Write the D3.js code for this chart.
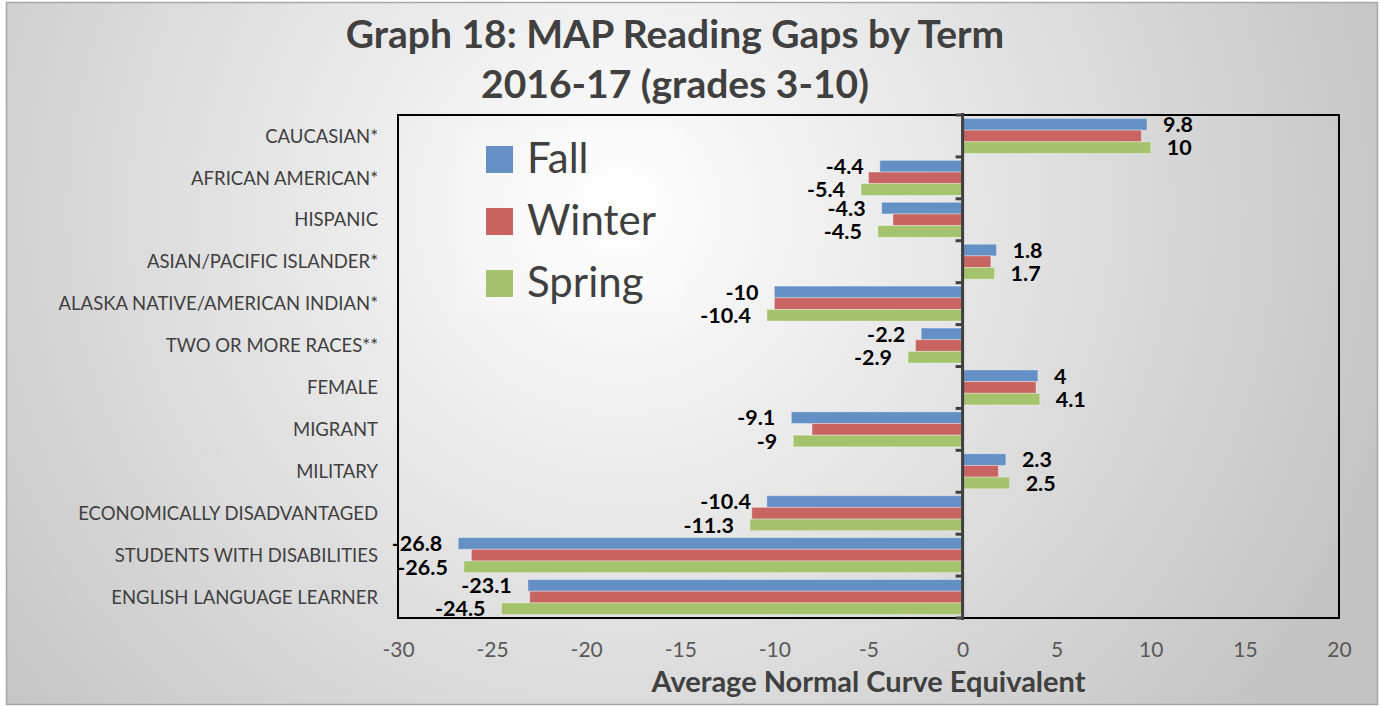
<!DOCTYPE html>
<html>
<head>
<meta charset="utf-8">
<script src="https://cdn.jsdelivr.net/npm/d3@7"></script>
<style>
  html, body { margin: 0; padding: 0; background: #fff; }
  svg { display: block; font-family: Lato, "Open Sans", sans-serif; }
</style>
</head>
<body>
<script>
// data
var categories = [
  "CAUCASIAN*", "AFRICAN AMERICAN*", "HISPANIC", "ASIAN/PACIFIC ISLANDER*",
  "ALASKA NATIVE/AMERICAN INDIAN*", "TWO OR MORE RACES**", "FEMALE", "MIGRANT",
  "MILITARY", "ECONOMICALLY DISADVANTAGED", "STUDENTS WITH DISABILITIES",
  "ENGLISH LANGUAGE LEARNER"
];
var series = ["Fall", "Winter", "Spring"];
var fall   = [9.8, -4.4, -4.3, 1.8, -10, -2.2, 4, -9.1, 2.3, -10.4, -26.8, -23.1];
var winter = [9.5, -5.0, -3.7, 1.5, -10, -2.5, 3.9, -8.0, 1.9, -11.2, -26.1, -23.0];
var spring = [10, -5.4, -4.5, 1.7, -10.4, -2.9, 4.1, -9, 2.5, -11.3, -26.5, -24.5];
var xTicks = [-30, -25, -20, -15, -10, -5, 0, 5, 10, 15, 20];
var colors = ["#6590c6", "#c86462", "#a5c36c"];
var labelled = ["Fall", "Spring"];   // winter bars carry no labels

var width = 1380, height = 706;
var plotLeft = 398, plotRight = 1339, plotTop = 115, plotBottom = 618;

var svg = d3.select("body").append("svg")
    .attr("width", width)
    .attr("height", height);

var defs = svg.append("defs");
var grad = defs.append("radialGradient")
    .attr("id", "bg")
    .attr("gradientUnits", "userSpaceOnUse")
    .attr("cx", 620).attr("cy", 210).attr("r", 820);
grad.append("stop").attr("offset", 0).attr("stop-color", "#ffffff");
grad.append("stop").attr("offset", 1).attr("stop-color", "#c3c3c3");

svg.append("rect")
    .attr("x", 6.5).attr("y", 2.5)
    .attr("width", 1371).attr("height", 702)
    .attr("fill", "url(#bg)")
    .attr("stroke", "#a6a6a6")
    .attr("stroke-width", 1.5);

var x = d3.scaleLinear().domain([-30, 20]).range([plotLeft, plotRight]);
var y = d3.scaleBand().domain(categories).range([plotTop, plotBottom])
    .paddingInner(0.165).paddingOuter(0.0825);
var ySub = d3.scaleBand().domain(series).range([0, y.bandwidth()]);
var color = d3.scaleOrdinal().domain(series).range(colors);

var rows = categories.map(function(c, i) {
  return { cat: c, values: [fall[i], winter[i], spring[i]] };
});

// title
var title = svg.append("g")
    .attr("fill", "#404040")
    .attr("font-weight", "bold")
    .attr("font-size", 39)
    .attr("text-anchor", "middle");
title.append("text").attr("x", 675).attr("y", 48).text("Graph 18: MAP Reading Gaps by Term");
title.append("text").attr("x", 675).attr("y", 98).text("2016-17 (grades 3-10)");

// legend
var legend = svg.append("g");
legend.append("rect")
    .attr("x", 456).attr("y", 128)
    .attr("width", 227).attr("height", 184)
    .attr("fill", "#ffffff").attr("opacity", 0.2);
var li = legend.selectAll("g.item")
    .data(series)
  .enter().append("g")
    .attr("class", "item")
    .attr("transform", function(d, i) { return "translate(486," + (146 + i * 62) + ")"; });
li.append("rect")
    .attr("width", 27).attr("height", 27)
    .attr("fill", function(d) { return color(d); });
li.append("text")
    .attr("x", 41).attr("y", 27)
    .attr("font-size", 42)
    .attr("fill", "#404040")
    .text(function(d) { return d; });

// plot frame
svg.append("rect")
    .attr("x", plotLeft).attr("y", plotTop)
    .attr("width", plotRight - plotLeft).attr("height", plotBottom - plotTop)
    .attr("fill", "none")
    .attr("stroke", "#000")
    .attr("stroke-width", 2);

// bars
var groups = svg.append("g").selectAll("g")
    .data(rows)
  .enter().append("g")
    .attr("transform", function(d) { return "translate(0," + y(d.cat) + ")"; });

groups.selectAll("rect")
    .data(function(d) { return d.values.map(function(v, j) { return { key: series[j], value: v }; }); })
  .enter().append("rect")
    .attr("x", function(d) { return x(Math.min(0, d.value)); })
    .attr("y", function(d) { return ySub(d.key); })
    .attr("width", function(d) { return Math.abs(x(d.value) - x(0)); })
    .attr("height", ySub.bandwidth())
    .attr("fill", function(d) { return color(d.key); })
    .attr("stroke", "rgba(255,255,255,0.35)")
    .attr("stroke-width", 1);

groups.selectAll("text")
    .data(function(d) {
      return d.values.map(function(v, j) { return { key: series[j], value: v }; })
        .filter(function(e) { return labelled.indexOf(e.key) >= 0; });
    })
  .enter().append("text")
    .attr("x", function(d) { return d.value < 0 ? x(d.value) - 16 : x(d.value) + 16; })
    .attr("y", function(d) { return ySub(d.key) + ySub.bandwidth() / 2; })
    .attr("dy", "0.36em")
    .attr("text-anchor", function(d) { return d.value < 0 ? "end" : "start"; })
    .attr("font-size", 21.5)
    .attr("font-weight", "bold")
    .attr("fill", "#000")
    .text(function(d) { return d.value; });

// category axis on the zero line
var yAxis = svg.append("g")
    .attr("transform", "translate(" + x(0) + ",0)");
yAxis.append("line")
    .attr("y1", plotTop - 2).attr("y2", plotBottom + 2)
    .attr("stroke", "#404040").attr("stroke-width", 3);
var bounds = categories.map(function(c) { return y(c) - y.step() * y.paddingInner() / 2; });
bounds.push(plotBottom);
bounds[0] = plotTop;
yAxis.selectAll("line.tick")
    .data(bounds)
  .enter().append("line")
    .attr("class", "tick")
    .attr("x1", -7).attr("x2", 0)
    .attr("y1", function(d) { return d; }).attr("y2", function(d) { return d; })
    .attr("stroke", "#404040").attr("stroke-width", 3);

// category labels
svg.append("g").selectAll("text")
    .data(categories)
  .enter().append("text")
    .attr("x", 378)
    .attr("y", function(d) { return y(d) + y.bandwidth() / 2; })
    .attr("dy", "0.36em")
    .attr("text-anchor", "end")
    .attr("font-size", 18.5)
    .attr("fill", "#404040")
    .text(function(d) { return d; });

// x axis
var xAxis = svg.append("g")
    .attr("transform", "translate(0," + plotBottom + ")")
    .call(d3.axisBottom(x).tickValues(xTicks).tickSize(0).tickPadding(24)
      .tickFormat(function(d) { return String(d); }));
xAxis.select(".domain").remove();
xAxis.selectAll("text")
    .attr("font-family", "Lato, 'Open Sans', sans-serif")
    .attr("font-size", 21)
    .attr("fill", "#595959");

svg.append("text")
    .attr("x", (plotLeft + plotRight) / 2)
    .attr("y", 692)
    .attr("text-anchor", "middle")
    .attr("font-size", 29)
    .attr("font-weight", "bold")
    .attr("fill", "#404040")
    .text("Average Normal Curve Equivalent");
</script>
</body>
</html>
